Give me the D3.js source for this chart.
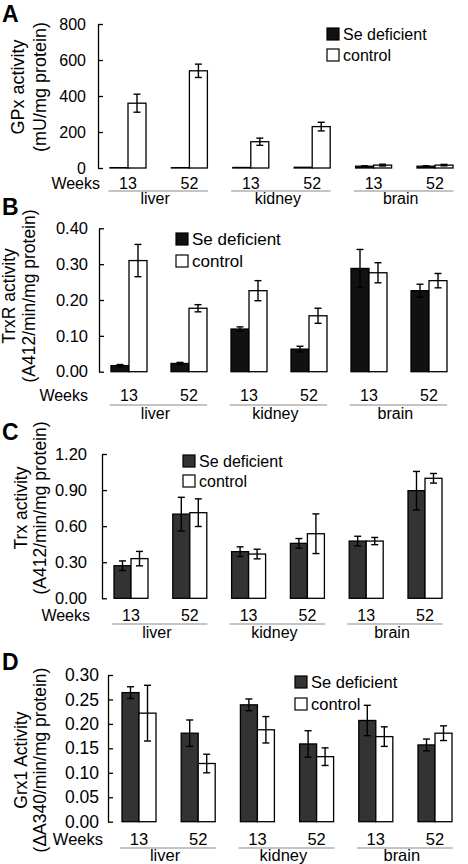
<!DOCTYPE html>
<html>
<head>
<meta charset="utf-8">
<script src="https://cdn.jsdelivr.net/npm/d3@7"></script>
<style>
  html, body { margin: 0; padding: 0; background: #fff; }
  svg text { font-family: "Liberation Sans", Arial, Helvetica, sans-serif; fill: #000; }
</style>
</head>
<body>
<svg id="chart" width="468" height="864"></svg>
<script>
// ---------------- DATA ----------------
const organs = ["liver", "kidney", "brain"];
const weeks = ["13", "52", "13", "52", "13", "52"];
const seriesNames = ["Se deficient", "control"];

// A: GPx activity (mU/mg protein)
const gpxDef = [2, 2, 3, 4, 10, 10];
const gpxDefErr = [0, 0, 0, 0, 2, 2];
const gpxCtrl = [360, 540, 146, 230, 16, 16];
const gpxCtrlErr = [50, 37, 20, 24, 5, 4];
const gpxTicks = [0, 200, 400, 600, 800];

// B: TrxR activity (A412/min/mg protein)
const trxrDef = [0.017, 0.023, 0.119, 0.063, 0.288, 0.226];
const trxrDefErr = [0.003, 0.003, 0.006, 0.008, 0.053, 0.018];
const trxrCtrl = [0.310, 0.177, 0.226, 0.156, 0.276, 0.254];
const trxrCtrlErr = [0.045, 0.010, 0.028, 0.021, 0.028, 0.020];
const trxrTicks = [0, 0.1, 0.2, 0.3, 0.4];

// C: Trx activity (A412/min/mg protein)
const trxDef = [0.271, 0.700, 0.388, 0.457, 0.476, 0.895];
const trxDefErr = [0.040, 0.140, 0.040, 0.040, 0.040, 0.160];
const trxCtrl = [0.330, 0.712, 0.368, 0.537, 0.476, 0.998];
const trxCtrlErr = [0.060, 0.115, 0.040, 0.165, 0.030, 0.040];
const trxTicks = [0, 0.3, 0.6, 0.9, 1.2];

// D: Grx1 Activity (ΔA340/min/mg protein)
const grxDef = [0.264, 0.181, 0.239, 0.159, 0.207, 0.157];
const grxDefErr = [0.012, 0.027, 0.012, 0.027, 0.031, 0.012];
const grxCtrl = [0.222, 0.119, 0.188, 0.133, 0.174, 0.181];
const grxCtrlErr = [0.057, 0.019, 0.027, 0.018, 0.020, 0.015];
const grxTicks = [0, 0.05, 0.1, 0.15, 0.2, 0.25, 0.3];

// ---------------- LAYOUT ----------------
const panels = [
  { letter: "A", letterY: 22, def: gpxDef, defErr: gpxDefErr, ctrl: gpxCtrl, ctrlErr: gpxCtrlErr,
    ticks: gpxTicks, fmt: d3.format("d"), max: 800,
    axisX: 98, yTop: 24, yBot: 168, centers: [128, 435], barW: 18, defFill: "#111",
    tickFont: 16, labelRight: 86,
    ylab: ["GPx activity", "(mU/mg protein)"], ylabX: [24, 46], ylabY: 87, ylabFont: 18,
    weeksRight: 100, weeksY: 189, underY: 191, organY: 204, rowFont: 16,
    legX: 327, legY: [28, 49], legFont: 16 },
  { letter: "B", letterY: 215, def: trxrDef, defErr: trxrDefErr, ctrl: trxrCtrl, ctrlErr: trxrCtrlErr,
    ticks: trxrTicks, fmt: d3.format(".2f"), max: 0.4,
    axisX: 99, yTop: 228.3, yBot: 371.7, centers: [129, 429], barW: 18, defFill: "#111",
    tickFont: 16.5, labelRight: 88,
    ylab: ["TrxR activity", "(A412/min/mg protein)"], ylabX: [15, 35], ylabY: 296, ylabFont: 17.5,
    weeksRight: 88, weeksY: 401, underY: 405, organY: 419, rowFont: 16,
    legX: 176, legY: [233, 255], legFont: 17 },
  { letter: "C", letterY: 440, def: trxDef, defErr: trxDefErr, ctrl: trxCtrl, ctrlErr: trxCtrlErr,
    ticks: trxTicks, fmt: d3.format(".2f"), max: 1.2,
    axisX: 102, yTop: 454, yBot: 598.3, centers: [131, 425], barW: 17, defFill: "#333",
    tickFont: 16.5, labelRight: 87,
    ylab: ["Trx activity", "(A412/min/mg protein)"], ylabX: [27, 46], ylabY: 508, ylabFont: 17.5,
    weeksRight: 90, weeksY: 621, underY: 624, organY: 638, rowFont: 16,
    legX: 183, legY: [455, 475], legFont: 16 },
  { letter: "D", letterY: 670, def: grxDef, defErr: grxDefErr, ctrl: grxCtrl, ctrlErr: grxCtrlErr,
    ticks: grxTicks, fmt: d3.format(".2f"), max: 0.3,
    axisX: 108, yTop: 675, yBot: 821.7, centers: [139, 435], barW: 17, defFill: "#333",
    tickFont: 17.5, labelRight: 99,
    ylab: ["Grx1 Activity", "(\u0394A340/min/mg protein)"], ylabX: [27, 46], ylabY: 760, ylabFont: 17.5,
    weeksRight: 103, weeksY: 845, underY: 848, organY: 861, rowFont: 16.5,
    legX: 295, legY: [676, 698], legFont: 16.5 }
];

const svg = d3.select("#chart");

panels.forEach(cfg => {
  const g = svg.append("g");
  const y = d3.scaleLinear().domain([0, cfg.max]).range([cfg.yBot, cfg.yTop]);
  const x = d3.scalePoint().domain(d3.range(weeks.length)).range(cfg.centers);
  const step = x.step();

  // panel letter
  g.append("text").attr("x", 2).attr("y", cfg.letterY)
    .attr("font-size", 23).attr("font-weight", "bold").text(cfg.letter);

  // y axis (inward ticks)
  const ax = g.append("g").attr("transform", `translate(${cfg.axisX},0)`)
    .call(d3.axisLeft(y).tickValues(cfg.ticks).tickFormat(cfg.fmt)
      .tickSize(-5).tickSizeOuter(0).tickPadding(cfg.axisX - cfg.labelRight));
  ax.select(".domain").attr("stroke", "#000").attr("stroke-width", 1.3);
  ax.selectAll(".tick line").attr("stroke", "#000").attr("stroke-width", 1.3);
  ax.selectAll(".tick text").attr("font-size", cfg.tickFont)
    .attr("font-family", "Liberation Sans, Arial, sans-serif").attr("fill", "#000");

  // y label (two lines, rotated)
  cfg.ylab.forEach((t, k) => {
    g.append("text")
      .attr("transform", `translate(${cfg.ylabX[k]},${cfg.ylabY}) rotate(-90)`)
      .attr("text-anchor", "middle").attr("font-size", cfg.ylabFont).text(t);
  });

  // bars
  const series = [
    { vals: cfg.def, errs: cfg.defErr, fill: cfg.defFill, off: -cfg.barW },
    { vals: cfg.ctrl, errs: cfg.ctrlErr, fill: "#fff", off: 0 }
  ];
  series.forEach(s => {
    g.selectAll(null).data(s.vals).enter().append("rect")
      .attr("x", (d, i) => x(i) + s.off)
      .attr("y", d => y(d))
      .attr("width", cfg.barW)
      .attr("height", d => y(0) - y(d))
      .attr("fill", s.fill).attr("stroke", "#000").attr("stroke-width", 1.3);
  });
  // error bars
  series.forEach(s => {
    s.vals.forEach((v, i) => {
      const e = s.errs[i];
      if (!e) return;
      const cx = x(i) + s.off + cfg.barW / 2;
      const eg = g.append("g").attr("stroke", "#000").attr("stroke-width", 1.4);
      eg.append("line").attr("x1", cx).attr("x2", cx).attr("y1", y(v - e)).attr("y2", y(v + e));
      eg.append("line").attr("x1", cx - 3.5).attr("x2", cx + 3.5).attr("y1", y(v + e)).attr("y2", y(v + e));
      eg.append("line").attr("x1", cx - 3.5).attr("x2", cx + 3.5).attr("y1", y(v - e)).attr("y2", y(v - e));
    });
  });

  // weeks row
  g.append("text").attr("x", cfg.weeksRight).attr("y", cfg.weeksY)
    .attr("text-anchor", "end").attr("font-size", cfg.rowFont).text("Weeks");
  g.selectAll(null).data(weeks).enter().append("text")
    .attr("x", (d, i) => x(i)).attr("y", cfg.weeksY)
    .attr("text-anchor", "middle").attr("font-size", cfg.rowFont).text(d => d);

  // organ underlines and labels
  organs.forEach((o, k) => {
    const x0 = x(2 * k) - step * 0.32, x1 = x(2 * k + 1) + step * 0.3;
    g.append("line").attr("x1", x0).attr("x2", x1).attr("y1", cfg.underY).attr("y2", cfg.underY)
      .attr("stroke", "#8a8a8a").attr("stroke-width", 1.2);
    g.append("text").attr("x", (x0 + x1) / 2 - 3).attr("y", cfg.organY)
      .attr("text-anchor", "middle").attr("font-size", cfg.rowFont).text(o);
  });

  // legend
  seriesNames.forEach((n, k) => {
    g.append("rect").attr("x", cfg.legX).attr("y", cfg.legY[k]).attr("width", 12).attr("height", 12)
      .attr("fill", k === 0 ? cfg.defFill : "#fff").attr("stroke", "#000").attr("stroke-width", 1.2);
    g.append("text").attr("x", cfg.legX + 16).attr("y", cfg.legY[k] + 11.5)
      .attr("font-size", cfg.legFont).text(n);
  });
});
</script>
</body>
</html>
